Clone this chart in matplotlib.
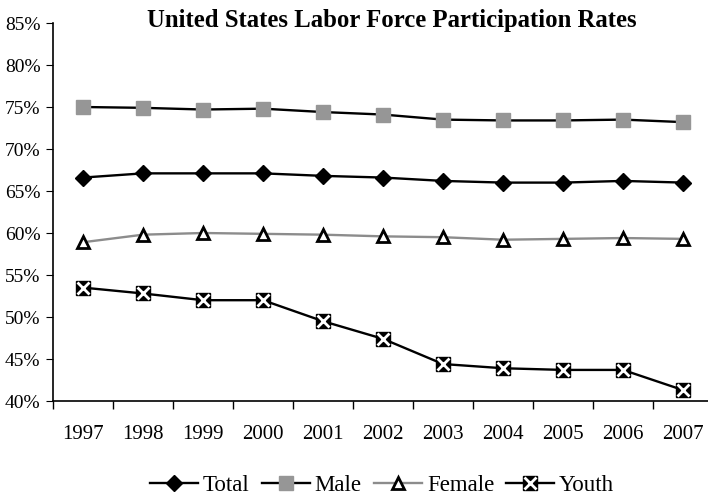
import matplotlib
matplotlib.use("Agg")
import matplotlib.pyplot as plt
from matplotlib.lines import Line2D
from matplotlib.legend_handler import HandlerTuple
from matplotlib.ticker import FuncFormatter, FixedLocator

years = ["1997", "1998", "1999", "2000", "2001", "2002", "2003", "2004", "2005", "2006", "2007"]
total = [66.6, 67.1, 67.1, 67.1, 66.8, 66.6, 66.2, 66.0, 66.0, 66.2, 66.0]
male = [75.0, 74.9, 74.7, 74.8, 74.4, 74.1, 73.5, 73.4, 73.4, 73.5, 73.2]
female = [58.9, 59.8, 60.0, 59.9, 59.8, 59.6, 59.5, 59.2, 59.3, 59.4, 59.3]
youth = [53.5, 52.8, 52.0, 52.0, 49.5, 47.4, 44.4, 43.9, 43.7, 43.7, 41.3]

plt.rcParams['font.family'] = ['Liberation Serif', 'DejaVu Serif']

fig = plt.figure(figsize=(7.08, 4.97), dpi=100)
W, H = 708, 497
ax = fig.add_axes([53 / W, 96 / H, 660 / W, 378 / H])

x = list(range(1, len(years) + 1))
gray = '#969696'
lw = 1.7

ax.plot(x, total, color='black', lw=lw, marker='D', ms=8, mfc='black', mec='black', zorder=3)
ax.plot(x, male, color='black', lw=lw, marker='s', ms=10, mfc=gray, mec=gray, zorder=3)
ax.plot(x, female, color='#8c8c8c', lw=lw, marker='^', ms=9, mfc='white', mec='black', mew=2, zorder=3)
ax.plot(x, youth, color='black', lw=lw, marker='s', ms=10, mfc='black', mec='black', zorder=3)
ax.plot(x, youth, ls='none', marker='x', ms=9, mec='white', mew=2, zorder=4)

ax.set_xlim(0.5, len(years) + 0.5)
ax.set_ylim(40, 85)
ax.set_xticks(x)
ax.set_xticklabels(years)
ax.xaxis.set_minor_locator(FixedLocator([i + 0.5 for i in range(0, len(years) + 1)]))
ax.tick_params(axis='x', which='major', length=0, pad=17, labelsize=15)
ax.tick_params(axis='x', which='minor', length=6, direction='out', width=1)
ax.set_yticks(range(40, 90, 5))
ax.yaxis.set_major_formatter(FuncFormatter(lambda v, p: f"{int(v)}%"))
ax.tick_params(axis='y', length=5, direction='out', labelsize=14, pad=4)
ax.spines['top'].set_visible(False)
ax.spines['right'].set_visible(False)
for s in ('left', 'bottom'):
    ax.spines[s].set_linewidth(1.2)

fig.text(392 / W, 1 - 20 / H, "United States Labor Force Participation Rates",
         ha='center', va='center', fontsize=17.8, fontweight='bold')

h_total = Line2D([], [], color='black', lw=lw, marker='D', ms=8, mfc='black', mec='black')
h_male = Line2D([], [], color='black', lw=lw, marker='s', ms=10, mfc=gray, mec=gray)
h_female = Line2D([], [], color='#8c8c8c', lw=lw, marker='^', ms=9, mfc='white', mec='black', mew=2)
h_y1 = Line2D([], [], color='black', lw=lw, marker='s', ms=10, mfc='black', mec='black')
h_y2 = Line2D([], [], ls='none', marker='x', ms=9, mec='white', mew=2)
fig.legend([h_total, h_male, h_female, (h_y1, h_y2)], ["Total", "Male", "Female", "Youth"],
           handler_map={tuple: HandlerTuple(ndivide=1)},
           loc='center', bbox_to_anchor=(382 / W, 1 - 485 / H), ncol=4, frameon=False,
           fontsize=16.5, handlelength=2.1, handletextpad=0.22, columnspacing=0.52)

fig.savefig("out.png", dpi=100)
